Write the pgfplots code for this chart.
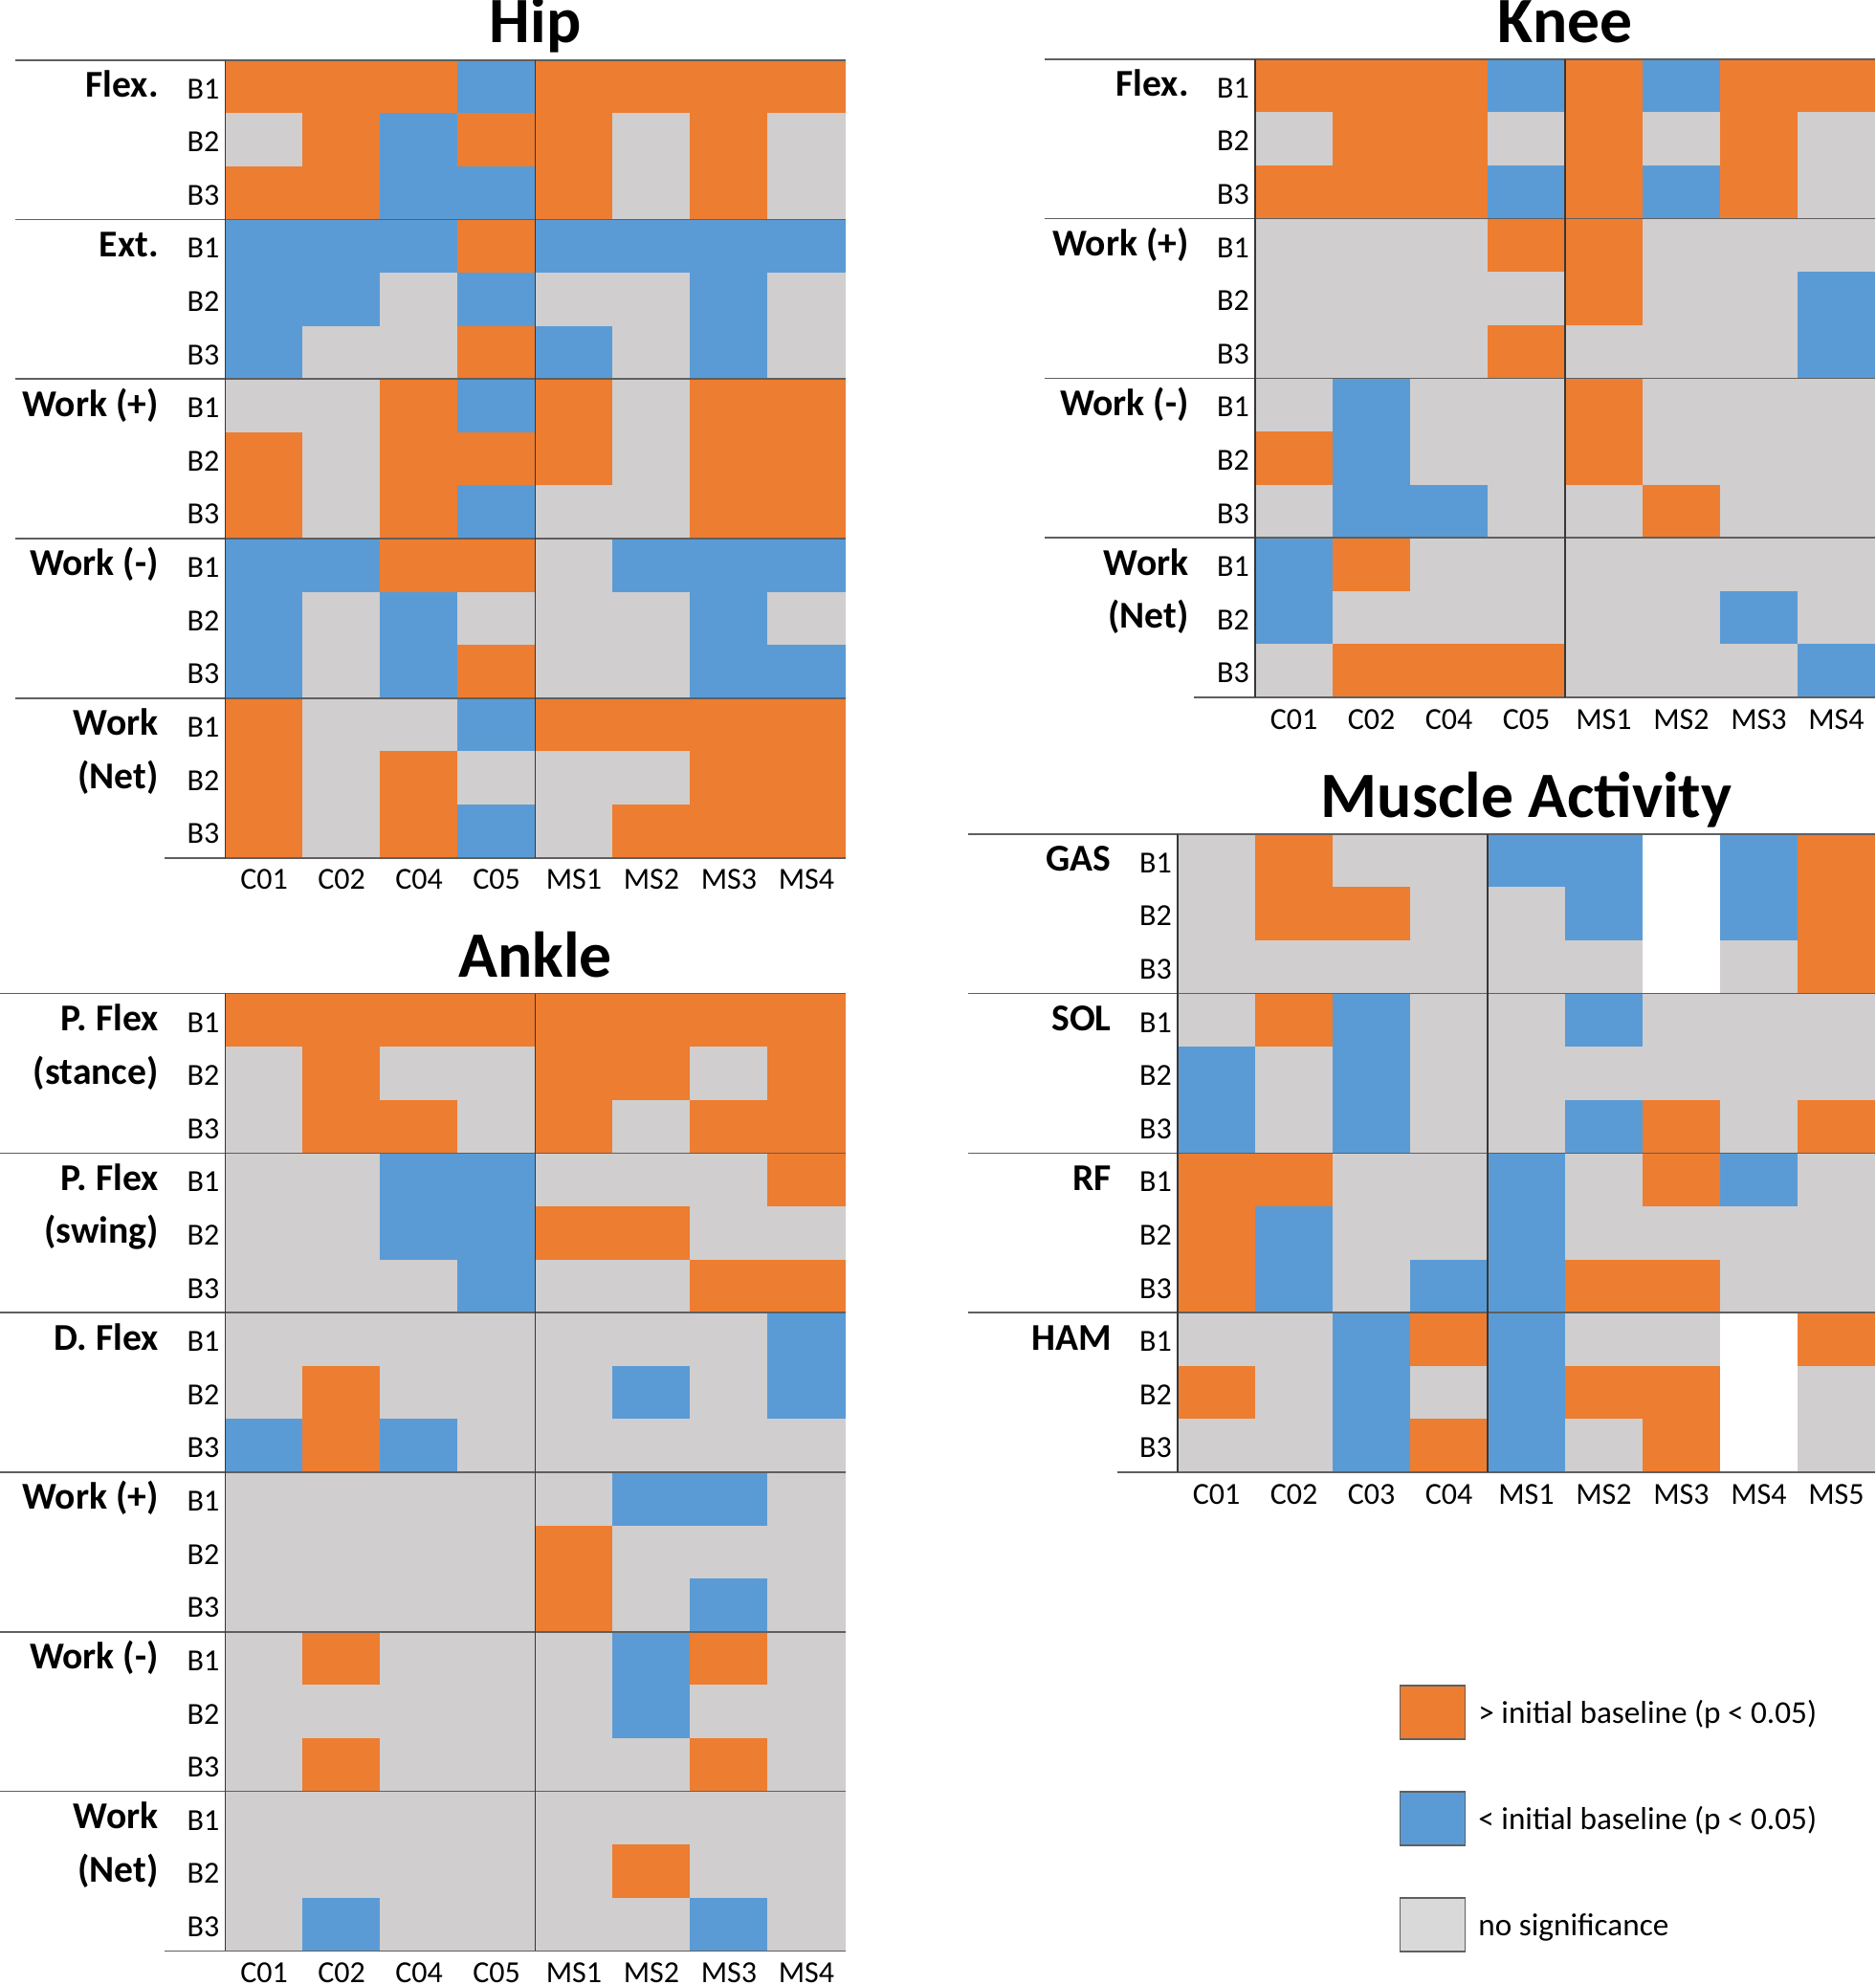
\documentclass[border=0pt]{standalone}
\usepackage{pgfplots}
\usepackage{pgfplotstable}
\pgfplotsset{compat=1.18}
\usepackage{fontspec}
\setmainfont{Carlito}
\definecolor{cO}{RGB}{237,125,49}
\definecolor{cB}{RGB}{91,155,213}
\definecolor{cG}{RGB}{208,206,206}
\definecolor{cGl}{RGB}{217,217,217}
\definecolor{lineH}{RGB}{95,95,95}
\definecolor{lineV}{RGB}{55,55,55}
\newcommand{\lblfont}{\fontsize{16}{19}\selectfont}
\newcommand{\bfont}{\fontsize{16}{19}\selectfont}
\newcommand{\grpfont}{\fontsize{19.8}{24}\selectfont\bfseries}
\newcommand{\ttlfont}{\fontsize{33.8}{40}\selectfont\bfseries}
\newcommand{\legfont}{\fontsize{16.6}{20}\selectfont}
\pgfdeclareplotmark{cell}{\pgfpathrectangle{\pgfpoint{-20.3pt}{-13.95pt}}{\pgfpoint{40.6pt}{27.9pt}}\pgfusepathqfill}

% codes: 1 = > initial baseline, -1 = < initial baseline, 0 = no significance, nan = no data
\pgfplotstableread{
row c0 c1 c2 c3 c4 c5 c6 c7
14  1  1  1 -1  1  1  1  1
13  0  1 -1  1  1  0  1  0
12  1  1 -1 -1  1  0  1  0
11 -1 -1 -1  1 -1 -1 -1 -1
10 -1 -1  0 -1  0  0 -1  0
9  -1  0  0  1 -1  0 -1  0
8   0  0  1 -1  1  0  1  1
7   1  0  1  1  1  0  1  1
6   1  0  1 -1  0  0  1  1
5  -1 -1  1  1  0 -1 -1 -1
4  -1  0 -1  0  0  0 -1  0
3  -1  0 -1  1  0  0 -1 -1
2   1  0  0 -1  1  1  1  1
1   1  0  1  0  0  0  1  1
0   1  0  1 -1  0  1  1  1
}\hip

\pgfplotstableread{
row c0 c1 c2 c3 c4 c5 c6 c7
11  1  1  1 -1  1 -1  1  1
10  0  1  1  0  1  0  1  0
9   1  1  1 -1  1 -1  1  0
8   0  0  0  1  1  0  0  0
7   0  0  0  0  1  0  0 -1
6   0  0  0  1  0  0  0 -1
5   0 -1  0  0  1  0  0  0
4   1 -1  0  0  1  0  0  0
3   0 -1 -1  0  0  1  0  0
2  -1  1  0  0  0  0  0  0
1  -1  0  0  0  0  0 -1  0
0   0  1  1  1  0  0  0 -1
}\knee

\pgfplotstableread{
row c0 c1 c2 c3 c4 c5 c6 c7
17  1  1  1  1  1  1  1  1
16  0  1  0  0  1  1  0  1
15  0  1  1  0  1  0  1  1
14  0  0 -1 -1  0  0  0  1
13  0  0 -1 -1  1  1  0  0
12  0  0  0 -1  0  0  1  1
11  0  0  0  0  0  0  0 -1
10  0  1  0  0  0 -1  0 -1
9  -1  1 -1  0  0  0  0  0
8   0  0  0  0  0 -1 -1  0
7   0  0  0  0  1  0  0  0
6   0  0  0  0  1  0 -1  0
5   0  1  0  0  0 -1  1  0
4   0  0  0  0  0 -1  0  0
3   0  1  0  0  0  0  1  0
2   0  0  0  0  0  0  0  0
1   0  0  0  0  0  1  0  0
0   0 -1  0  0  0  0 -1  0
}\ankle

\pgfplotstableread{
row c0 c1 c2 c3 c4 c5 c6 c7 c8
11  0  1  0  0 -1 -1 nan -1  1
10  0  1  1  0  0 -1 nan -1  1
9   0  0  0  0  0  0 nan  0  1
8   0  1 -1  0  0 -1  0  0  0
7  -1  0 -1  0  0  0  0  0  0
6  -1  0 -1  0  0 -1  1  0  1
5   1  1  0  0 -1  0  1 -1  0
4   1 -1  0  0 -1  0  0  0  0
3   1 -1  0 -1 -1  1  1  0  0
2   0  0 -1  1 -1  0  0 nan  1
1   1  0 -1  0 -1  1  1 nan  0
0   0  0 -1  1 -1  0  1 nan  0
}\muscle

\pgfplotsset{
  panel/.style={scale only axis, clip=false,
    axis line style={draw=none}, major tick length=0pt, tick style={draw=none},
    xmin=-0.5, ymin=-0.5, enlargelimits=false,
    xticklabel style={font=\lblfont, anchor=base, yshift=-16.5pt},
    yticklabel style={font=\bfont, anchor=east, inner sep=0pt, xshift=-2.9pt, yshift=-1.2pt},
    /pgf/number format/assume math mode=true},
  cellplot/.style={scatter, only marks, mark=cell, scatter src=explicit symbolic,
    scatter/classes={1={fill=cO}, -1={fill=cB}, 0={fill=cG}, nan={fill=white}}},
}

\begin{document}
\begin{tikzpicture}
\useasboundingbox (0,0) rectangle (980pt,-1037.5pt);

% ---------------- Hip ----------------
\begin{axis}[panel, at={(117.75pt,-448.35pt)}, anchor=south west,
  width=324pt, height=417pt, xmax=7.5, ymax=14.5,
  xtick={0,...,7}, xticklabels={C01,C02,C04,C05,MS1,MS2,MS3,MS4},
  ytick={0,...,14}, yticklabels={B3,B2,B1,B3,B2,B1,B3,B2,B1,B3,B2,B1,B3,B2,B1}]
\pgfplotsinvokeforeach{0,...,7}{\addplot[cellplot] table[x expr=#1, y=row, meta=c#1]{\hip};}
\end{axis}

% ---------------- Knee ----------------
\begin{axis}[panel, at={(656pt,-364.5pt)}, anchor=south west,
  width=324pt, height=333.6pt, xmax=7.5, ymax=11.5,
  xtick={0,...,7}, xticklabels={C01,C02,C04,C05,MS1,MS2,MS3,MS4},
  ytick={0,...,11}, yticklabels={B3,B2,B1,B3,B2,B1,B3,B2,B1,B3,B2,B1}]
\pgfplotsinvokeforeach{0,...,7}{\addplot[cellplot] table[x expr=#1, y=row, meta=c#1]{\knee};}
\end{axis}

% ---------------- Muscle Activity ----------------
\begin{axis}[panel, at={(615.5pt,-769.5pt)}, anchor=south west,
  width=364.5pt, height=333.6pt, xmax=8.5, ymax=11.5,
  xtick={0,...,8}, xticklabels={C01,C02,C03,C04,MS1,MS2,MS3,MS4,MS5},
  ytick={0,...,11}, yticklabels={B3,B2,B1,B3,B2,B1,B3,B2,B1,B3,B2,B1}]
\pgfplotsinvokeforeach{0,...,8}{\addplot[cellplot] table[x expr=#1, y=row, meta=c#1]{\muscle};}
\end{axis}

% ---------------- Ankle ----------------
\begin{axis}[panel, at={(117.75pt,-1019.7pt)}, anchor=south west,
  width=324pt, height=500.4pt, xmax=7.5, ymax=17.5,
  xtick={0,...,7}, xticklabels={C01,C02,C04,C05,MS1,MS2,MS3,MS4},
  ytick={0,...,17}, yticklabels={B3,B2,B1,B3,B2,B1,B3,B2,B1,B3,B2,B1,B3,B2,B1,B3,B2,B1}]
\pgfplotsinvokeforeach{0,...,7}{\addplot[cellplot] table[x expr=#1, y=row, meta=c#1]{\ankle};}
\end{axis}

\begin{scope}[x=0.5pt, y=-0.5pt]
% ---- Hip decorations ----
\foreach \yy in {62.7,229.5,396.3,563.1,729.9} \draw[lineH, line width=0.85pt] (16,\yy) -- (883.5,\yy);
\draw[lineH, line width=0.85pt] (172,896.7) -- (883.5,896.7);
\draw[lineV, line width=0.75pt] (235.5,62.7) -- (235.5,896.7);
\draw[lineV, line width=0.6pt] (559.5,62.7) -- (559.5,896.7);
\node[font=\ttlfont, anchor=base] at (559.5,45) {Hip};
\node[font=\grpfont, anchor=base east, inner sep=0pt] at (166,101.5) {Flex.};
\node[font=\grpfont, anchor=base east, inner sep=0pt] at (166,268.3) {Ext.};
\node[font=\grpfont, anchor=base east, inner sep=0pt] at (166,435.1) {Work (+)};
\node[font=\grpfont, anchor=base east, inner sep=0pt] at (166,601.9) {Work (-)};
\node[font=\grpfont, anchor=base east, inner sep=0pt] at (166,768.7) {Work};
\node[font=\grpfont, anchor=base east, inner sep=0pt] at (166,824.3) {(Net)};

% ---- Knee decorations ----
\foreach \yy in {61.8,228.6,395.4,562.2} \draw[lineH, line width=0.85pt] (1092,\yy) -- (1960,\yy);
\draw[lineH, line width=0.85pt] (1248,729) -- (1960,729);
\draw[lineV, line width=0.75pt] (1312,61.8) -- (1312,729);
\draw[lineV, line width=0.6pt] (1636,61.8) -- (1636,729);
\node[font=\ttlfont, anchor=base] at (1636,44.3) {Knee};
\node[font=\grpfont, anchor=base east, inner sep=0pt] at (1243,100.6) {Flex.};
\node[font=\grpfont, anchor=base east, inner sep=0pt] at (1243,267.4) {Work (+)};
\node[font=\grpfont, anchor=base east, inner sep=0pt] at (1243,434.2) {Work (-)};
\node[font=\grpfont, anchor=base east, inner sep=0pt] at (1243,601) {Work};
\node[font=\grpfont, anchor=base east, inner sep=0pt] at (1243,656.6) {(Net)};

% ---- Muscle decorations ----
\foreach \yy in {871.8,1038.6,1205.4,1372.2} \draw[lineH, line width=0.85pt] (1012,\yy) -- (1960,\yy);
\draw[lineH, line width=0.85pt] (1168,1539) -- (1960,1539);
\draw[lineV, line width=0.75pt] (1231,871.8) -- (1231,1539);
\draw[lineV, line width=0.6pt] (1555,871.8) -- (1555,1539);
\node[font=\ttlfont, anchor=base] at (1595.5,854) {Muscle Activity};
\node[font=\grpfont, anchor=base east, inner sep=0pt] at (1162,910.6) {GAS};
\node[font=\grpfont, anchor=base east, inner sep=0pt] at (1162,1077.4) {SOL};
\node[font=\grpfont, anchor=base east, inner sep=0pt] at (1162,1244.2) {RF};
\node[font=\grpfont, anchor=base east, inner sep=0pt] at (1162,1411) {HAM};

% ---- Ankle decorations ----
\foreach \yy in {1038.6,1205.4,1372.2,1539,1705.8,1872.6} \draw[lineH, line width=0.85pt] (0,\yy) -- (883.5,\yy);
\draw[lineH, line width=0.85pt] (172,2039.4) -- (883.5,2039.4);
\draw[lineV, line width=0.75pt] (235.5,1038.6) -- (235.5,2039.4);
\draw[lineV, line width=0.6pt] (559.5,1038.6) -- (559.5,2039.4);
\node[font=\ttlfont, anchor=base] at (559.5,1021.7) {Ankle};
\node[font=\grpfont, anchor=base east, inner sep=0pt] at (166,1077.4) {P. Flex};
\node[font=\grpfont, anchor=base east, inner sep=0pt] at (166,1133) {(stance)};
\node[font=\grpfont, anchor=base east, inner sep=0pt] at (166,1244.2) {P. Flex};
\node[font=\grpfont, anchor=base east, inner sep=0pt] at (166,1299.8) {(swing)};
\node[font=\grpfont, anchor=base east, inner sep=0pt] at (166,1411) {D. Flex};
\node[font=\grpfont, anchor=base east, inner sep=0pt] at (166,1577.8) {Work (+)};
\node[font=\grpfont, anchor=base east, inner sep=0pt] at (166,1744.6) {Work (-)};
\node[font=\grpfont, anchor=base east, inner sep=0pt] at (166,1911.4) {Work};
\node[font=\grpfont, anchor=base east, inner sep=0pt] at (166,1967) {(Net)};

% ---- Legend ----
\draw[fill=cO, draw=lineH, line width=0.6pt] (1463.5,1762) rectangle (1531.5,1818);
\draw[fill=cB, draw=lineH, line width=0.6pt] (1463.5,1873) rectangle (1531.5,1929);
\draw[fill=cGl, draw=lineH, line width=0.6pt] (1463.5,1984) rectangle (1531.5,2040);
\node[font=\legfont, anchor=base west, inner sep=0pt] at (1545,1801.7) {> initial baseline (p < 0.05)};
\node[font=\legfont, anchor=base west, inner sep=0pt] at (1545,1912.5) {< initial baseline (p < 0.05)};
\node[font=\legfont, anchor=base west, inner sep=0pt] at (1545,2023.5) {no significance};
\end{scope}
\end{tikzpicture}
\end{document}
